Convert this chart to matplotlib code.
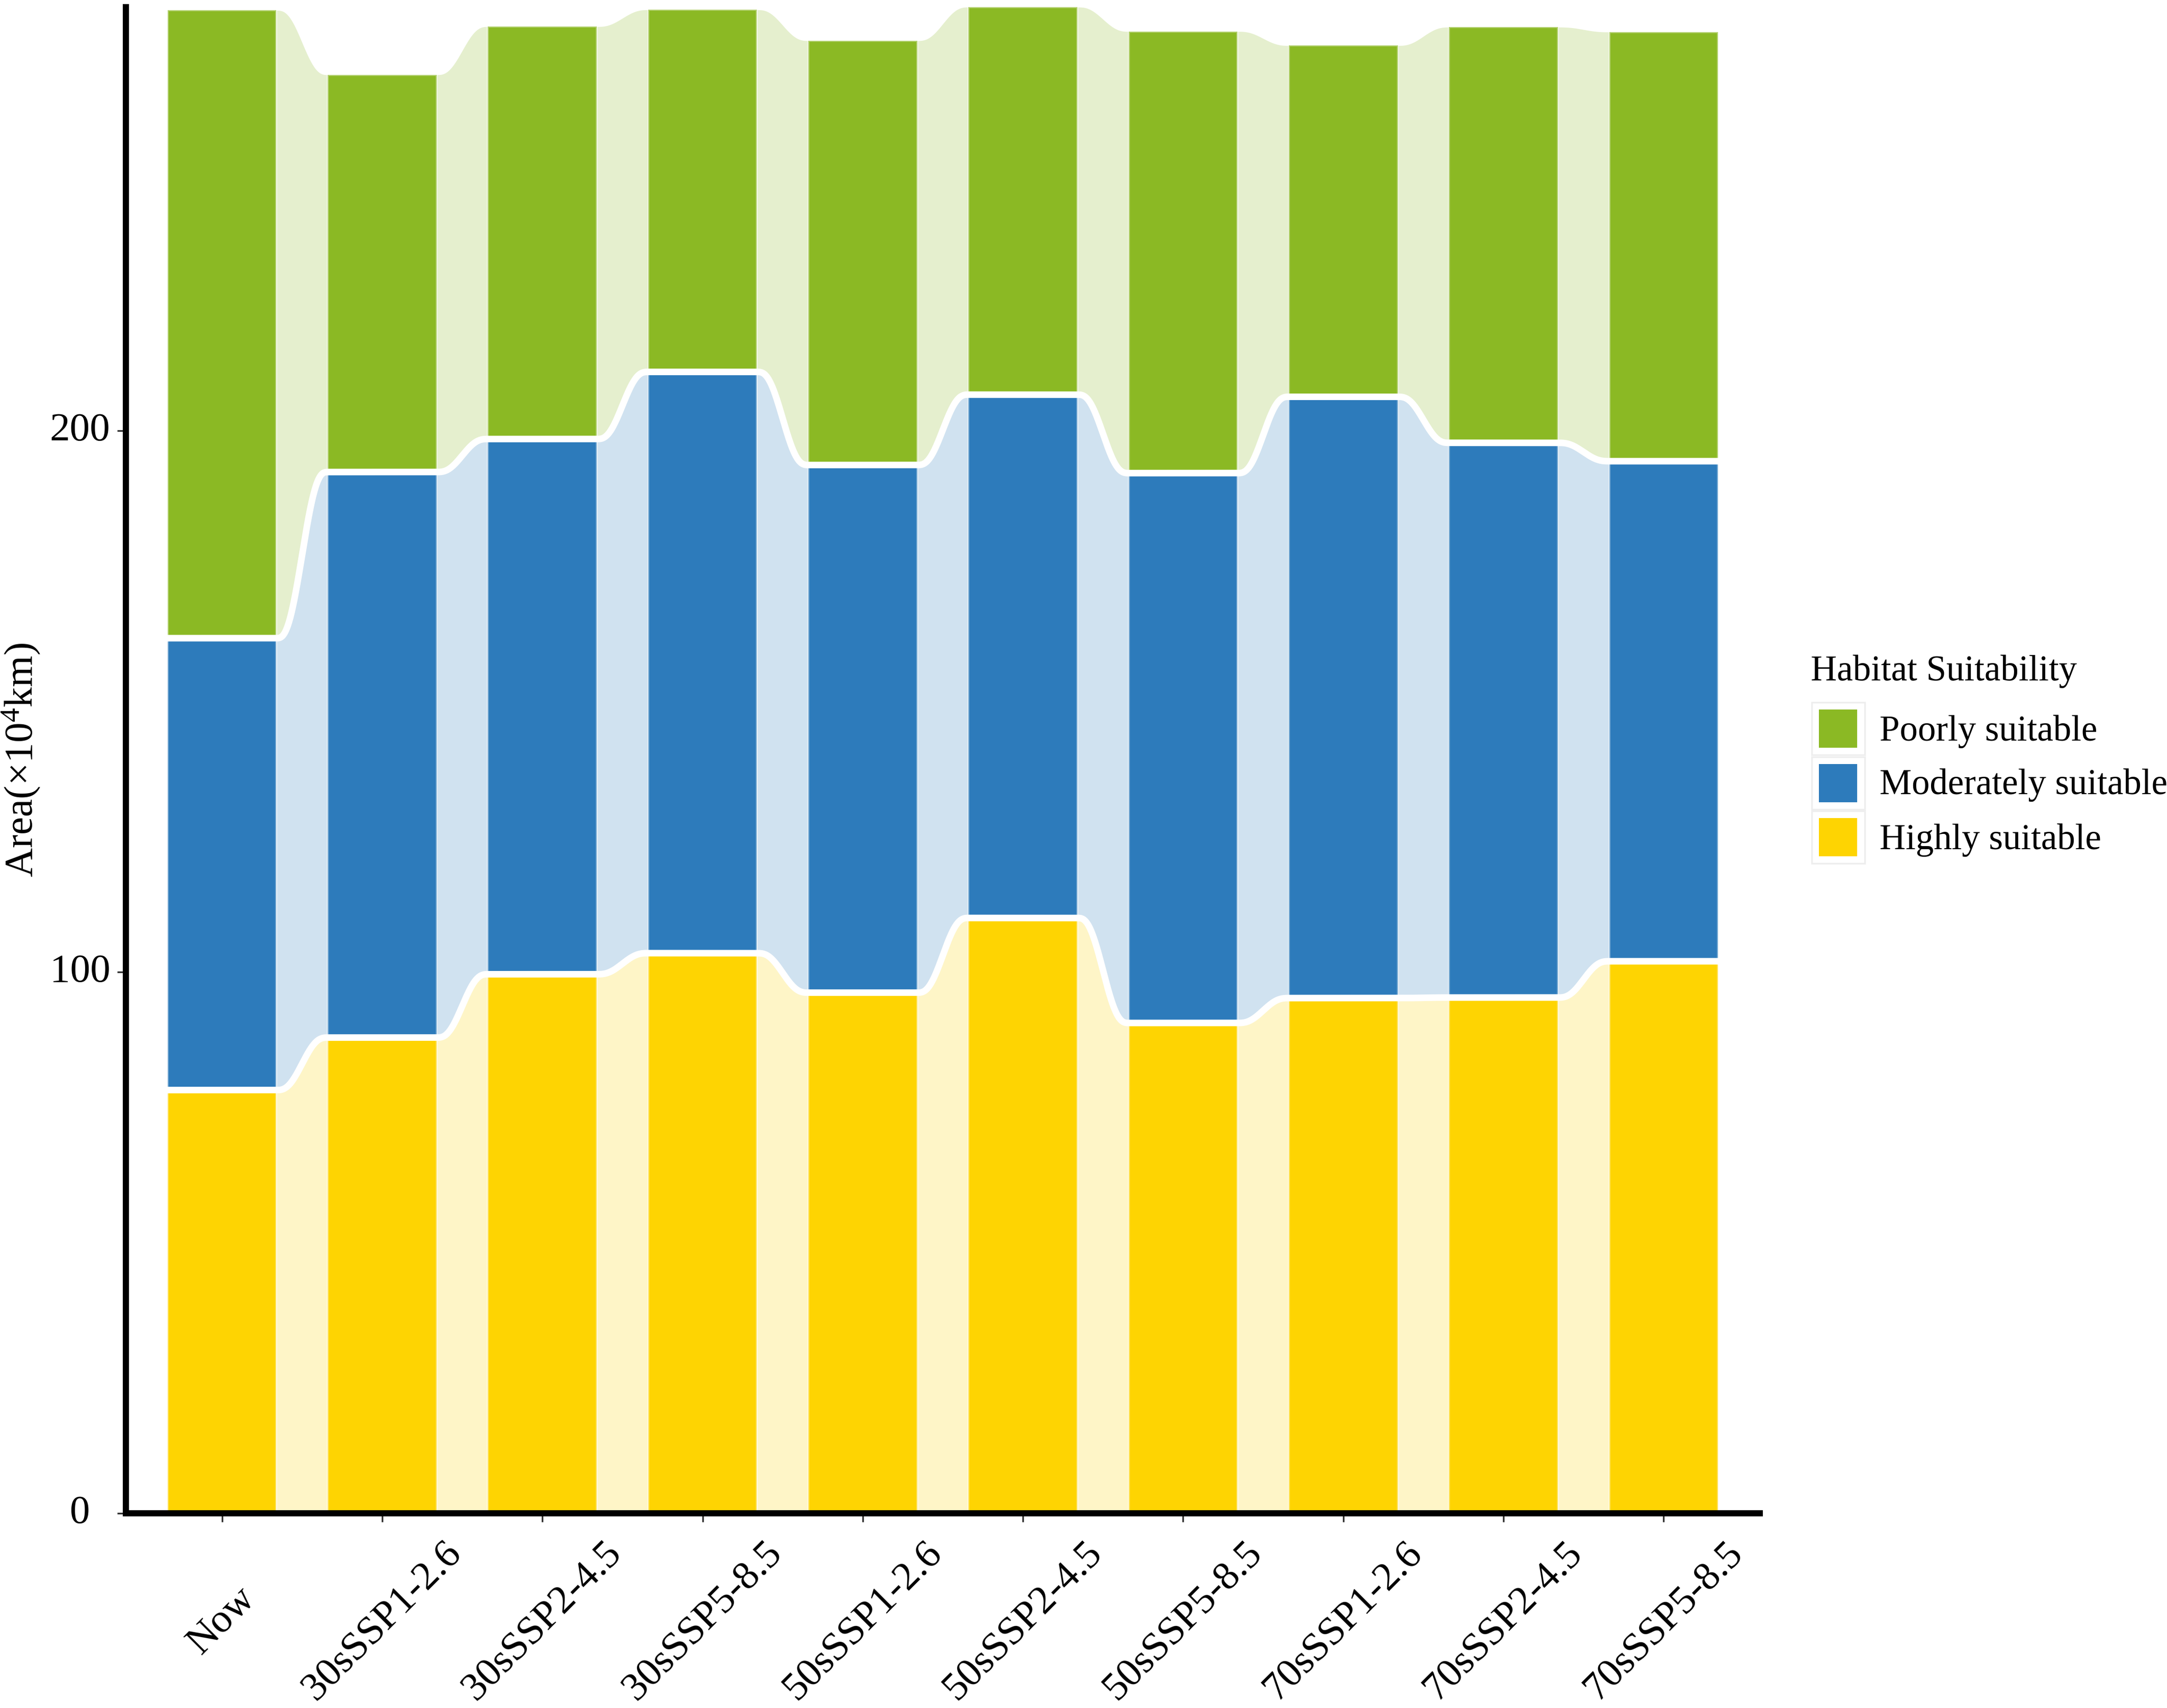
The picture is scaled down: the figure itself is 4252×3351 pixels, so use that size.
import numpy as np
import matplotlib
matplotlib.use("Agg")
import matplotlib.pyplot as plt
from matplotlib.patches import Rectangle

plt.rcParams['font.family'] = ['Liberation Serif', 'DejaVu Serif']
plt.rcParams['mathtext.fontset'] = 'custom'
plt.rcParams['mathtext.rm'] = 'Liberation Serif'
plt.rcParams['mathtext.default'] = 'regular'

# data (x10^4 km2)
scenarios = ["Now", "30sSSP1-2.6", "30sSSP2-4.5", "30sSSP5-8.5", "50sSSP1-2.6",
             "50sSSP2-4.5", "50sSSP5-8.5", "70sSSP1-2.6", "70sSSP2-4.5", "70sSSP5-8.5"]
highly = [78.2, 87.9, 99.6, 103.5, 96.2, 110.0, 90.6, 95.2, 95.3, 102.0]
moderately = [83.5, 104.5, 98.9, 107.4, 97.5, 96.7, 101.6, 111.1, 102.5, 92.4]
poorly = [116.0, 73.4, 76.2, 66.9, 78.4, 71.6, 81.6, 64.9, 76.8, 79.3]
legend_labels = ["Poorly suitable", "Moderately suitable", "Highly suitable"]

C_HIGH = "#FED402"
C_MOD = "#2D7BBB"
C_POOR = "#8BB924"
FLOW_ALPHA = 0.22
W = 0.68

W_PX, H_PX = 4252, 3351
DPI = 300
fig = plt.figure(figsize=(W_PX / DPI, H_PX / DPI), dpi=DPI)

def fx(x):
    return x / W_PX

def fy(y):
    return 1 - y / H_PX

ax = fig.add_axes([fx(247), fy(2969), fx(3453) - fx(247), fy(14) - fy(2969)])

hi = np.array(highly)
md = np.array(moderately)
pr = np.array(poorly)
b1 = hi
b2 = hi + md
b3 = hi + md + pr
n = len(scenarios)
xpos = np.arange(n)

def smooth(t):
    return 6 * t**5 - 15 * t**4 + 10 * t**3

# flows between bars
layers = [(np.zeros(n), b1, C_HIGH), (b1, b2, C_MOD), (b2, b3, C_POOR)]
for i in range(n - 1):
    x0 = i + W / 2
    x1 = i + 1 - W / 2
    xs = np.linspace(x0, x1, 120)
    s = smooth((xs - x0) / (x1 - x0))
    for lo, up, col in layers:
        ylo = lo[i] + (lo[i + 1] - lo[i]) * s
        yup = up[i] + (up[i + 1] - up[i]) * s
        ax.fill_between(xs, ylo, yup, color=col, alpha=FLOW_ALPHA, lw=0, zorder=1)

# stacked bars
edge = (1, 1, 1, 0.35)
ax.bar(xpos, hi, width=W, color=C_HIGH, edgecolor=edge, linewidth=1.0, zorder=2)
ax.bar(xpos, md, width=W, bottom=b1, color=C_MOD, edgecolor=edge, linewidth=1.0, zorder=2)
ax.bar(xpos, pr, width=W, bottom=b2, color=C_POOR, edgecolor=edge, linewidth=1.0, zorder=2)

# white boundary lines along the tops of the lower two layers
for bnd in (b1, b2):
    lx, ly = [], []
    for i in range(n):
        lx += [i - W / 2, i + W / 2]
        ly += [bnd[i], bnd[i]]
        if i < n - 1:
            x0 = i + W / 2
            x1 = i + 1 - W / 2
            xs = np.linspace(x0, x1, 120)[1:-1]
            s = smooth((xs - x0) / (x1 - x0))
            lx += list(xs)
            ly += list(bnd[i] + (bnd[i + 1] - bnd[i]) * s)
    ax.plot(lx, ly, color="white", lw=3.1, solid_capstyle="butt",
            solid_joinstyle="round", zorder=3)

ax.set_xlim(-0.6, n - 1 + 0.6)
ax.set_ylim(0, b3.max())

for side in ("top", "right"):
    ax.spines[side].set_visible(False)
for side in ("left", "bottom"):
    ax.spines[side].set_linewidth(2.9)
    ax.spines[side].set_color("black")
    ax.spines[side].set_capstyle("projecting")

ax.set_yticks([0, 100, 200])
ax.set_yticklabels(["0", "100", "200"], fontsize=19, ha="center", va="center")
ax.tick_params(axis="y", length=4, width=0.8, color="#333333", pad=17.6)

ax.set_xticks(xpos)
ax.set_xticklabels(scenarios, fontsize=19, rotation=45, ha="center", va="center")
ax.tick_params(axis="x", length=4, width=0.8, color="#333333", pad=46.6)

fig.text(fx(41), fy(1491), "Area(×10$^{4}$km)", rotation=90, fontsize=19,
         ha="center", va="center")

# legend
fig.text(fx(3553), fy(1335), "Habitat Suitability", fontsize=17, ha="left", va="baseline")
key_cols = [C_POOR, C_MOD, C_HIGH]
row_tops = [1378, 1485, 1591]
baselines = [1453, 1558, 1666]
for col, lab, top, base in zip(key_cols, legend_labels, row_tops, baselines):
    fig.add_artist(Rectangle((fx(3555), fy(top + 103)), fx(104), 103 / H_PX,
                             transform=fig.transFigure, facecolor="white",
                             edgecolor="#EEEEEE", lw=0.8))
    fig.add_artist(Rectangle((fx(3569), fy(top + 89)), fx(75), 75 / H_PX,
                             transform=fig.transFigure, facecolor=col, lw=0))
    fig.text(fx(3688), fy(base), lab, fontsize=17, ha="left", va="baseline")

fig.savefig("out.png", dpi=DPI, facecolor="white")
